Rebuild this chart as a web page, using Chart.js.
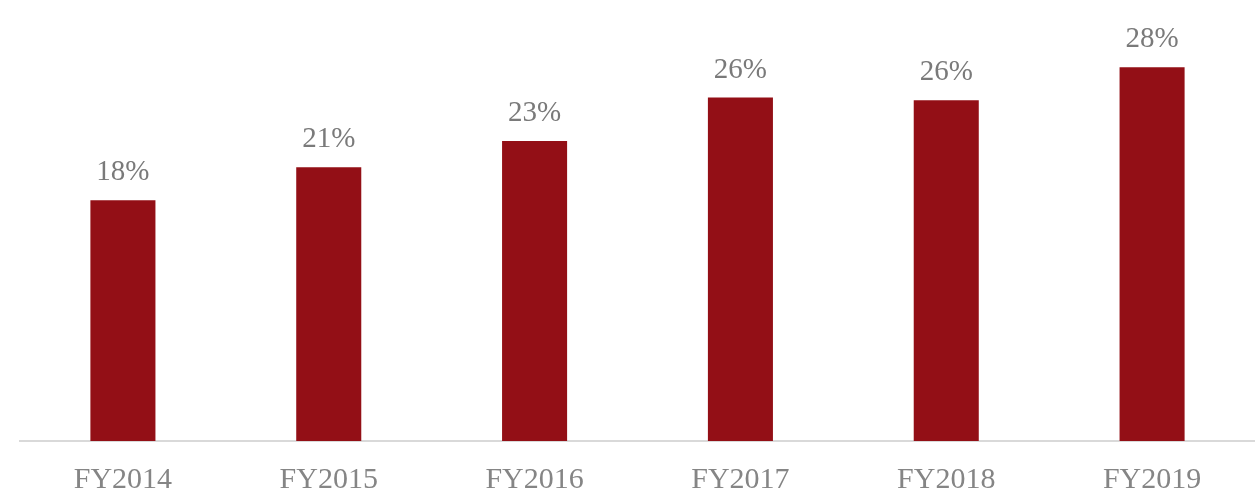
<!DOCTYPE html>
<html>
<head>
<meta charset="utf-8">
<script src="https://cdn.jsdelivr.net/npm/chart.js@4.4.1/dist/chart.umd.min.js"></script>
<style>
    html, body { margin: 0; padding: 0; background: #ffffff; }
    #wrap { width: 1255px; height: 495px; position: relative; }
</style>
</head>
<body>
<div id="wrap"><canvas id="margin-chart"></canvas></div>
<script>
const years = ["FY2014", "FY2015", "FY2016", "FY2017", "FY2018", "FY2019"];
const margins = [18.3, 20.8, 22.8, 26.1, 25.9, 28.4];

const ctx = document.getElementById("margin-chart").getContext("2d");

new Chart(ctx, {
    type: "bar",
    data: {
        labels: years,
        datasets: [
            {
                data: margins,
                backgroundColor: "#930f16",
                borderWidth: 0,
                barPercentage: 0.316,
                categoryPercentage: 1,
            },
        ],
    },
    options: {
        responsive: true,
        maintainAspectRatio: false,
        animation: false,
        layout: {
            padding: { top: 20, left: 20, right: 0, bottom: 0 },
        },
        plugins: {
            legend: { display: false },
            tooltip: { enabled: false },
        },
        scales: {
            x: {
                grid: { display: false, drawTicks: false },
                border: { color: "#d9d9d9", width: 2 },
                ticks: {
                    color: "#858585",
                    padding: 21,
                    font: { family: "Liberation Serif", size: 30 },
                },
                afterFit: (scale) => {
                    scale.height = 54;
                },
            },
            y: {
                display: false,
                min: 0,
                max: 32,
            },
        },
    },
    plugins: [
        {
            id: "valueLabels",
            afterDatasetsDraw: (chart) => {
                const c = chart.ctx;
                chart.data.datasets.forEach((dataset, i) => {
                    const meta = chart.getDatasetMeta(i);
                    meta.data.forEach((bar, index) => {
                        const value = dataset.data[index];
                        c.save();
                        c.fillStyle = "#7a7a7a";
                        c.textAlign = "center";
                        c.textBaseline = "alphabetic";
                        c.font = "29px 'Liberation Serif'";
                        c.fillText(Math.round(value) + "%", bar.x, bar.y - 20);
                        c.restore();
                    });
                });
            },
        },
    ],
});
</script>
</body>
</html>
